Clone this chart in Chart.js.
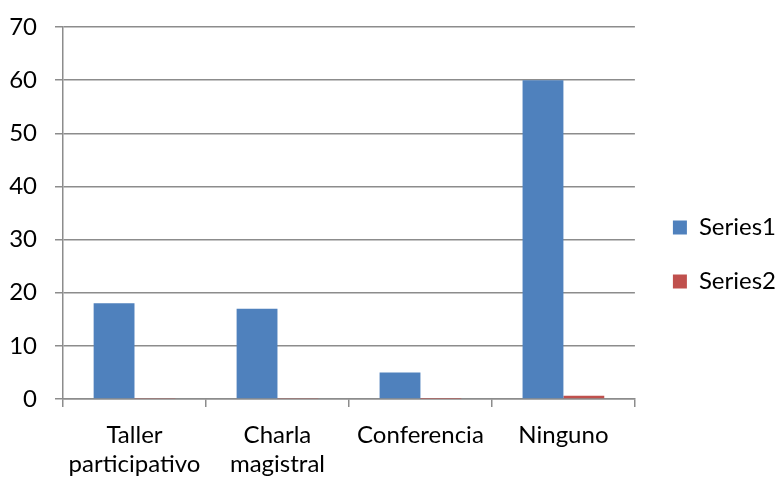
<!DOCTYPE html>
<html>
<head>
<meta charset="utf-8">
<script src="https://cdn.jsdelivr.net/npm/chart.js@4/dist/chart.umd.min.js"></script>
<style>
  html, body { margin: 0; padding: 0; background: #fff; }
  #wrap { width: 778px; height: 479px; position: relative; }
</style>
</head>
<body>
<div id="wrap"><canvas id="c"></canvas></div>
<script>
const categories = [['Taller', 'participativo'], ['Charla', 'magistral'], 'Conferencia', 'Ninguno'];
const seriesNames = ['Series1', 'Series2'];
const series1 = [18, 17, 5, 60];
const series2 = [0.18, 0.17, 0.05, 0.6];
const yTicks = [0, 10, 20, 30, 40, 50, 60, 70];

const FONT = 'Lato, "Open Sans", sans-serif';
const gridColor = '#8c8c8c';

const legendShift = {
  id: 'legendShift',
  afterLayout(chart) {
    const lg = chart.legend;
    if (lg) { lg.left += 8; lg.right += 8; lg.top += 15; lg.bottom += 15; }
  }
};

new Chart(document.getElementById('c'), {
  type: 'bar',
  data: {
    labels: categories,
    datasets: [
      { label: seriesNames[0], data: series1, backgroundColor: '#4F81BD', borderWidth: 0 },
      { label: seriesNames[1], data: series2, backgroundColor: '#C0504D', borderWidth: 0 }
    ]
  },
  plugins: [legendShift],
  options: {
    responsive: true,
    maintainAspectRatio: false,
    animation: false,
    layout: { padding: { top: 0, right: 0, bottom: 0, left: 0 } },
    datasets: { bar: { categoryPercentage: 2 / 3.5, barPercentage: 1.0 } },
    plugins: {
      tooltip: { enabled: false },
      legend: {
        position: 'right',
        align: 'center',
        labels: {
          boxWidth: 14,
          boxHeight: 14,
          padding: 30,
          color: '#000',
          font: { family: FONT, size: 24 }
        }
      }
    },
    scales: {
      x: {
        offset: true,
        afterFit: (s) => { s.height = 80; },
        grid: {
          display: true,
          offset: true,
          drawOnChartArea: false,
          drawTicks: true,
          tickLength: 8,
          color: gridColor,
          lineWidth: 1.5
        },
        border: { display: true, color: gridColor, width: 1.5 },
        ticks: {
          color: '#000',
          padding: 14,
          maxRotation: 0,
          autoSkip: false,
          font: { family: FONT, size: 24, lineHeight: 1.2 }
        }
      },
      y: {
        min: 0,
        max: 70,
        afterBuildTicks: (s) => { s.ticks = yTicks.map(v => ({ value: v })); },
        afterFit: (s) => { s.width = 63; s.paddingTop = 27; s.paddingBottom = 15; },
        grid: {
          color: gridColor,
          lineWidth: 1.5,
          drawTicks: true,
          tickLength: 8
        },
        border: { display: true, color: gridColor, width: 1.5 },
        ticks: {
          color: '#000',
          padding: 18,
          font: { family: FONT, size: 24 }
        }
      }
    }
  }
});
</script>
</body>
</html>
